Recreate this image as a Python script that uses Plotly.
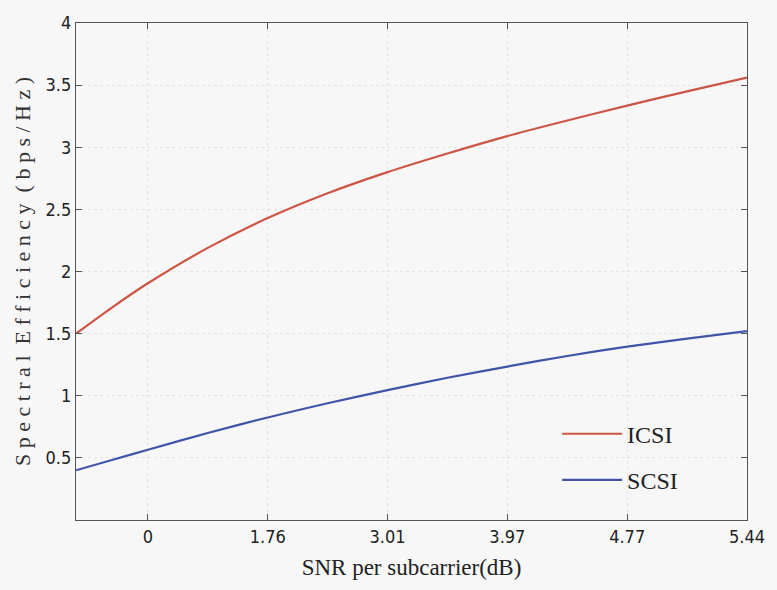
import plotly.graph_objects as go

# linear SNR (x axis is linear in SNR, labelled in dB)
snr_lin = [0.7, 0.85, 1.0, 1.25, 1.5, 1.75, 2.0, 2.25, 2.5, 2.75, 3.0, 3.25, 3.5]
icsi = [1.50, 1.71, 1.905, 2.19, 2.43, 2.63, 2.80, 2.95, 3.09, 3.215, 3.335, 3.45, 3.56]
scsi = [0.40, 0.483, 0.565, 0.70, 0.825, 0.94, 1.045, 1.145, 1.235, 1.32, 1.395, 1.46, 1.52]

tick_vals = [1.0, 1.5, 2.0, 2.5, 3.0, 3.5]
tick_text = ["0", "1.76", "3.01", "3.97", "4.77", "5.44"]
y_ticks = [0.5, 1, 1.5, 2, 2.5, 3, 3.5, 4]
y_text = ["0.5", "1", "1.5", "2", "2.5", "3", "3.5", "4"]

bg = "#f7f7f7"
serif = "Liberation Serif, DejaVu Serif, serif"
narrow = "DejaVu Sans Condensed, Liberation Sans Narrow, Liberation Sans, sans-serif"

fig = go.Figure()
fig.add_trace(go.Scatter(x=snr_lin, y=icsi, mode="lines", name="ICSI", legendgroup="a",
                         line=dict(color="#cc5545", width=2.2, shape="spline", smoothing=0.8)))
fig.add_trace(go.Scatter(x=snr_lin, y=scsi, mode="lines", name="SCSI", legendgroup="b",
                         line=dict(color="#4055a8", width=2.2, shape="spline", smoothing=0.8)))

axis_common = dict(showline=True, linecolor="#555555", linewidth=1.3, mirror="ticks",
                   ticks="inside", ticklen=6, tickcolor="#555555",
                   showgrid=True, gridcolor="#e4e4e4", griddash="dot", gridwidth=1,
                   zeroline=False, ticklabeloverflow="allow",
                   tickfont=dict(family=narrow, size=18, color="#222222"))

fig.update_xaxes(range=[0.7, 3.5], tickvals=tick_vals, ticktext=tick_text,
                 title=dict(text="SNR per subcarrier(dB)", standoff=13,
                            font=dict(family=serif, size=23, color="#222222")),
                 **axis_common)
fig.update_yaxes(range=[0, 4], tickvals=y_ticks, ticktext=y_text,
                 title=dict(text="S p e c t r a l  E f f i c i e n c y  ( b p s / H z )", standoff=8,
                            font=dict(family=serif, size=22, color="#333333")),
                 **axis_common)

fig.update_layout(width=777, height=590,
                  margin=dict(l=76, r=19, t=17, b=70),
                  paper_bgcolor=bg, plot_bgcolor=bg,
                  legend=dict(x=0.717, y=0.218, xanchor="left", yanchor="top",
                              bgcolor="rgba(0,0,0,0)", borderwidth=0,
                              font=dict(family=serif, size=24, color="#222222"),
                              tracegroupgap=12, itemwidth=60))

fig.write_html("out.html")
